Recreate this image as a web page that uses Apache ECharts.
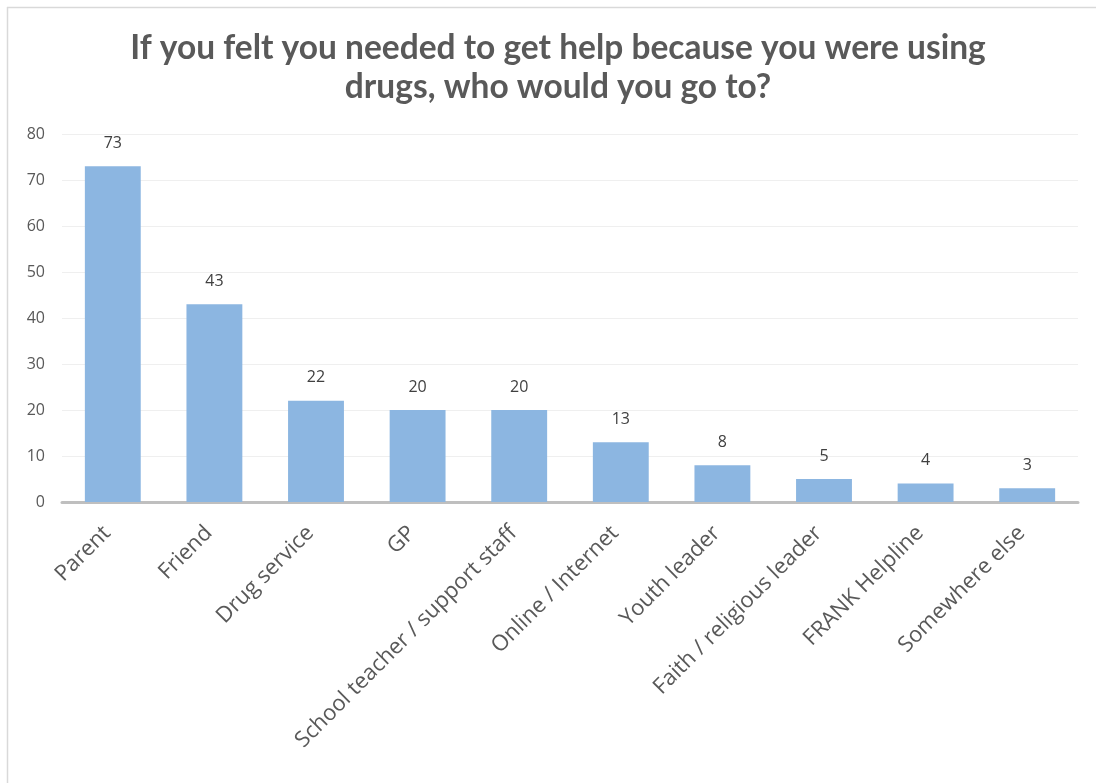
<!DOCTYPE html>
<html>
<head>
<meta charset="utf-8">
<script src="https://cdn.jsdelivr.net/npm/echarts@6/dist/echarts.min.js"></script>
<style>
html,body{margin:0;padding:0;background:#fff;}
#c{width:1096px;height:783px;}
</style>
</head>
<body>
<div id="c"></div>
<script>
const titleText = "If you felt you needed to get help because you were using\ndrugs, who would you go to?";
const categories = ["Parent","Friend","Drug service","GP","School teacher / support staff","Online / Internet","Youth leader","Faith / religious leader","FRANK Helpline","Somewhere else"];
const values = [73,43,22,20,20,13,8,5,4,3];
const yTicks = {min:0, max:80, interval:10};

const chart = echarts.init(document.getElementById('c'));
chart.setOption({
  animation:false,
  backgroundColor:'#ffffff',
  title:{
    text:titleText,
    left:553, textAlign:'center', top:24,
    textStyle:{fontFamily:'Lato', fontWeight:'bold', fontSize:33.5, color:'#595959', lineHeight:39}
  },
  graphic:[
    {type:'line', shape:{x1:7,y1:7.5,x2:1096,y2:7.5}, style:{stroke:'#d9d9d9', lineWidth:1.5}},
    {type:'line', shape:{x1:7.5,y1:7,x2:7.5,y2:783}, style:{stroke:'#d9d9d9', lineWidth:1.5}}
  ],
  grid:{left:62, right:18, top:134, bottom:281, containLabel:false},
  xAxis:{
    type:'category', data:categories,
    axisLine:{lineStyle:{color:'#bfbfbf', width:3}},
    axisTick:{show:false},
    axisLabel:{rotate:45, interval:0, margin:22, padding:[0,8,0,0], fontFamily:'Open Sans', fontSize:22, color:'#595959'}
  },
  yAxis:{
    type:'value', min:yTicks.min, max:yTicks.max, interval:yTicks.interval,
    axisLine:{show:false}, axisTick:{show:false},
    axisLabel:{margin:17, fontFamily:'Open Sans', fontSize:16, color:'#595959'},
    splitLine:{lineStyle:{color:'#efefef', width:1}}
  },
  series:[{
    type:'bar', data:values, barWidth:'55%',
    itemStyle:{color:'#8cb6e1'},
    label:{show:true, position:'top', distance:15, fontFamily:'Open Sans', fontSize:16, color:'#404040'}
  }]
});
</script>
</body>
</html>
